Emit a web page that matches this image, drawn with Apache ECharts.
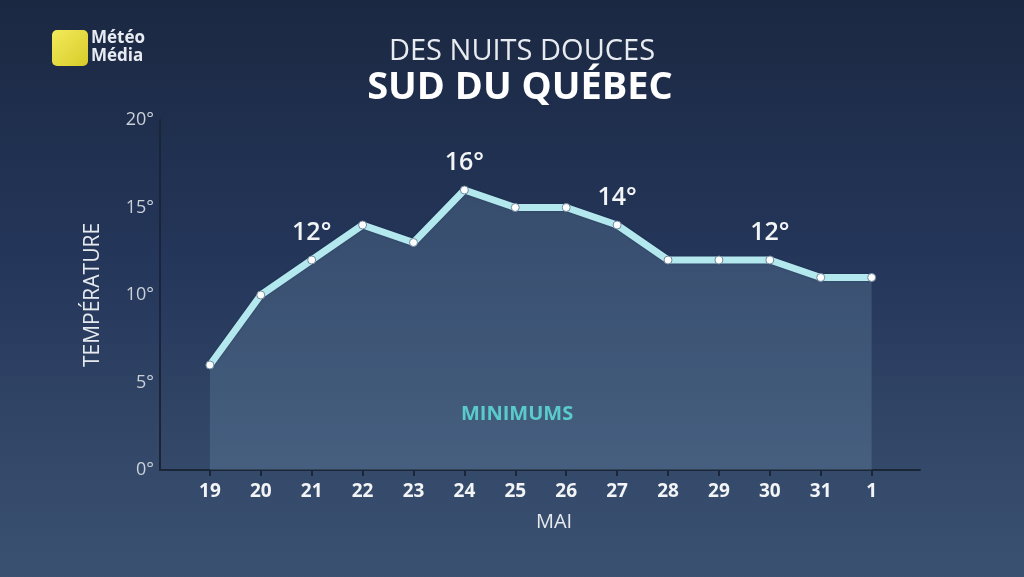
<!DOCTYPE html>
<html><head><meta charset="utf-8">
<script src="https://cdn.jsdelivr.net/npm/echarts@6/dist/echarts.min.js"></script>
<style>html,body{margin:0;padding:0;background:#1c2a44}#c{width:1024px;height:577px}</style>
</head><body><div id="c"></div>
<script>
var days = ['19','20','21','22','23','24','25','26','27','28','29','30','31','1'];
var minimums = [6,10,12,14,13,16,15,15,14,12,12,12,11,11];
var labelled = [2,5,8,11];
var yTicks = [0,5,10,15,20];

var chart = echarts.init(document.getElementById('c'), null, {renderer:'canvas'});
var data = minimums.map(function(v,i){
  var p = {value:[i,v]};
  if (labelled.indexOf(i) >= 0) {
    p.label = {show:true, position:'top', distance:10, formatter: v + '°',
      color:'#f2f4f6', fontSize:25, fontWeight:600, fontFamily:'Open Sans'};
  }
  return p;
});
var idx = days.map(function(d,i){return i;});
chart.setOption({
  backgroundColor: {type:'linear',x:0,y:0,x2:0,y2:1,colorStops:[
    {offset:0,color:'#1b2842'},{offset:0.45,color:'#24365a'},{offset:0.8,color:'#34496a'},{offset:1,color:'#3b5172'}]},
  animation:false,
  title:[
    {text:'DES NUITS DOUCES', left:517, top:32, textAlign:'center',
      textStyle:{color:'#e8ecf0', fontSize:29, fontWeight:'normal', fontFamily:'Open Sans'}},
    {text:'SUD DU QUÉBEC', left:515, top:64, textAlign:'center',
      textStyle:{color:'#ffffff', fontSize:38, fontWeight:'bold', fontFamily:'Open Sans'}}
  ],
  grid:{left:160, right:104, top:120, bottom:107},
  xAxis:{type:'value', min:-0.98, max:13.95,
    name:'MAI', nameLocation:'middle', nameGap:42,
    nameTextStyle:{color:'#e6eaee', fontSize:20, fontFamily:'Open Sans', padding:[0,0,0,28]},
    axisLine:{show:true, onZero:false, lineStyle:{color:'#1a2538', width:2}},
    axisTick:{show:true, customValues:idx, length:6, lineStyle:{color:'#1a2538', width:2}},
    axisLabel:{customValues:idx, formatter:function(v){return days[Math.round(v)];},
      color:'#f2f4f6', fontSize:19, fontWeight:'bold', fontFamily:'Open Sans', margin:12},
    splitLine:{show:false}},
  yAxis:{type:'value', min:0, max:20, interval:5,
    name:'TEMPÉRATURE', nameLocation:'middle', nameGap:56, nameRotate:90,
    nameTextStyle:{color:'#e6eaee', fontSize:21, fontFamily:'Open Sans'},
    axisLine:{show:true, onZero:false, lineStyle:{color:'#1a2538', width:2}},
    axisTick:{show:false},
    axisLabel:{formatter:function(v){return v+'°';}, color:'#c9d0d8', fontSize:18, fontFamily:'Open Sans', margin:6},
    splitLine:{show:false}},
  series:[{
    type:'line', data:data, symbol:'circle', symbolSize:8,
    itemStyle:{color:'#ffffff', borderColor:'#6f8aa0', borderWidth:1},
    lineStyle:{color:'#b3e8ef', width:7, shadowColor:'rgba(20,40,60,0.5)', shadowBlur:2},
    areaStyle:{color:'rgba(130,170,195,0.33)'},
    z:3
  }],
  graphic:[
    {type:'rect', left:52, top:30, shape:{width:36, height:36, r:5},
      style:{fill:{type:'linear',x:0,y:0,x2:1,y2:1,colorStops:[{offset:0,color:'#f2ea5a'},{offset:1,color:'#d8cc2a'}]}}},
    {type:'text', left:91, top:29, style:{text:'Météo\nMédia', fill:'#e8ecf2', font:'bold 17px "Open Sans"', lineHeight:18}},
    {type:'text', left:461, top:404, style:{text:'MINIMUMS', fill:'#4fd6cf', font:'bold 20px "Open Sans"'}}
  ]
});
</script></body></html>
